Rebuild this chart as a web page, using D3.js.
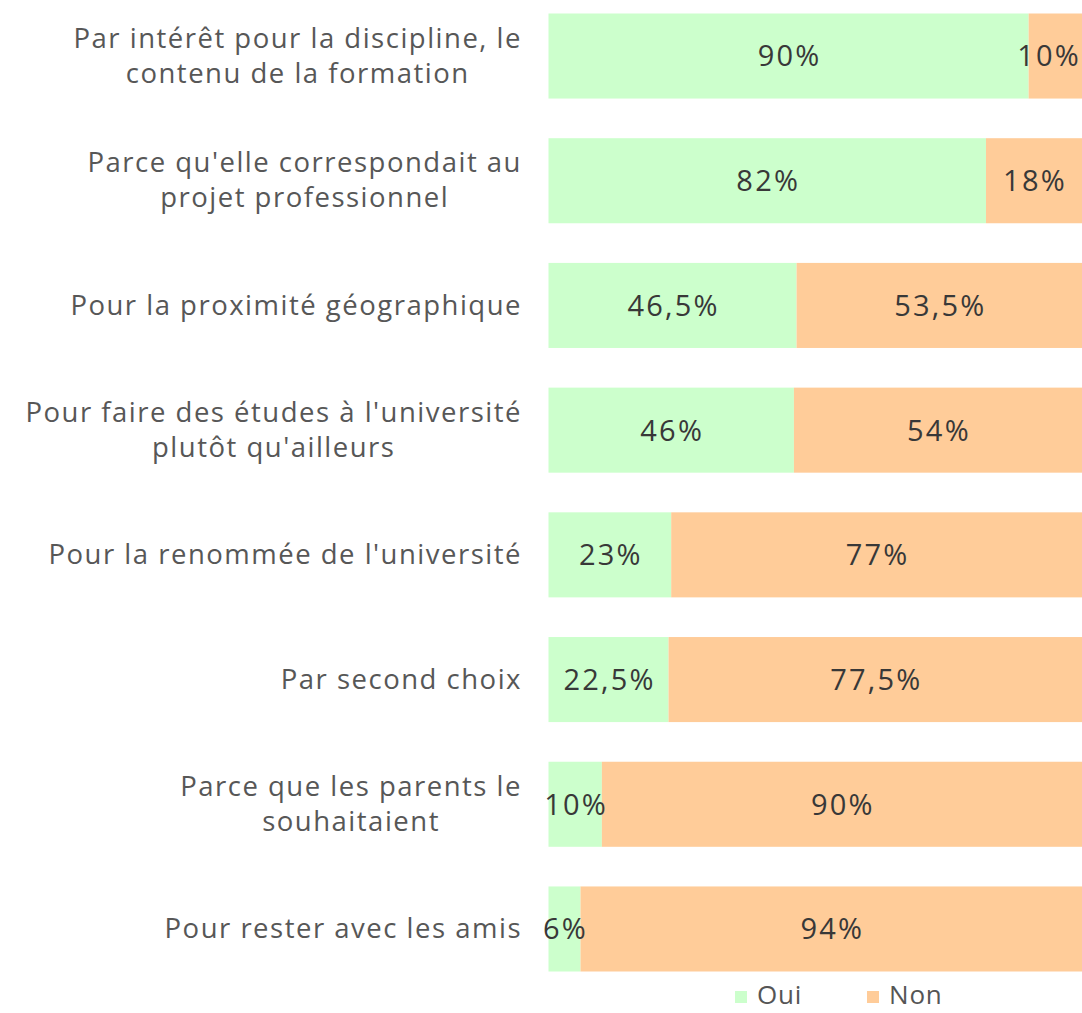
<!DOCTYPE html>
<html><head><meta charset="utf-8">
<script src="https://cdn.jsdelivr.net/npm/d3@7"></script>
<style>html,body{margin:0;padding:0;background:#fff;overflow:hidden}</style>
</head><body>
<svg id="c" width="1082" height="1013"></svg>
<script>
const categories = [
  ["Par intérêt pour la discipline, le", "contenu de la formation"],
  ["Parce qu'elle correspondait au", "projet professionnel"],
  ["Pour la proximité géographique"],
  ["Pour faire des études à l'université", "plutôt qu'ailleurs"],
  ["Pour la renommée de l'université"],
  ["Par second choix"],
  ["Parce que les parents le", "souhaitaient"],
  ["Pour rester avec les amis"]
];
const oui = [90, 82, 46.5, 46, 23, 22.5, 10, 6];
const non = [10, 18, 53.5, 54, 77, 77.5, 90, 94];
const seriesNames = ["Oui", "Non"];
const colors = ["#CCFFCC", "#FFCC99"];

const W = 1082;
const svg = d3.select("#c");
const x = d3.scaleLinear().domain([0, 100]).range([548.5, W]);
const y = d3.scaleBand().domain(d3.range(categories.length))
  .range([13.5, 971.5]).paddingInner(0.318).paddingOuter(0);

const rows = categories.map((c, i) => ({i, vals: [oui[i], non[i]]}));
const fmt = v => String(v).replace(".", ",") + "%";

rows.forEach(r => {
  let acc = 0;
  r.vals.forEach((v, k) => {
    const x0 = x(acc), x1 = x(acc + v);
    svg.append("rect").attr("x", x0).attr("y", y(r.i)).attr("width", x1 - x0)
      .attr("height", y.bandwidth()).attr("fill", colors[k]);
    acc += v;
  });
});
rows.forEach(r => {
  let acc = 0;
  r.vals.forEach((v, k) => {
    const x0 = x(acc), x1 = x(acc + v);
    const t = svg.append("text").attr("x", (x0 + x1) / 2 + 1).attr("y", y(r.i) + y.bandwidth() / 2)
      .attr("dy", "0.36em").attr("text-anchor", "middle")
      .attr("font-family", "'Open Sans', sans-serif").attr("font-size", 29)
      .attr("letter-spacing", 2.2)
      .attr("fill", "#383838").text(fmt(v));
    const bb = t.node().getBBox();
    if (bb.x + bb.width > W - 1) t.attr("x", (x0 + x1) / 2 + 1 - (bb.x + bb.width - (W - 1)));
    acc += v;
  });
});

categories.forEach((lines, i) => {
  const cy = y(i) + y.bandwidth() / 2;
  const lh = 35;
  const g = svg.append("g");
  const ts = lines.map((ln, j) => g.append("text").attr("text-anchor", "middle")
    .attr("font-family", "'Open Sans', sans-serif").attr("font-size", 27.5)
    .attr("letter-spacing", 1.5).attr("fill", "#575757")
    .attr("x", 0).attr("y", cy + (j - (lines.length - 1) / 2) * lh)
    .attr("dy", "0.33em").text(ln));
  const w = g.node().getBBox().width;
  ts.forEach(t => t.attr("x", 522 - w / 2));
});

const legendX = [735, 867];
seriesNames.forEach((s, k) => {
  svg.append("rect").attr("x", legendX[k]).attr("y", 991).attr("width", 12).attr("height", 12).attr("fill", colors[k]);
  svg.append("text").attr("x", legendX[k] + 22).attr("y", 1004)
    .attr("font-family", "'Open Sans', sans-serif").attr("font-size", 26)
    .attr("letter-spacing", 0.8).attr("fill", "#555").text(s);
});
</script>
</body></html>
